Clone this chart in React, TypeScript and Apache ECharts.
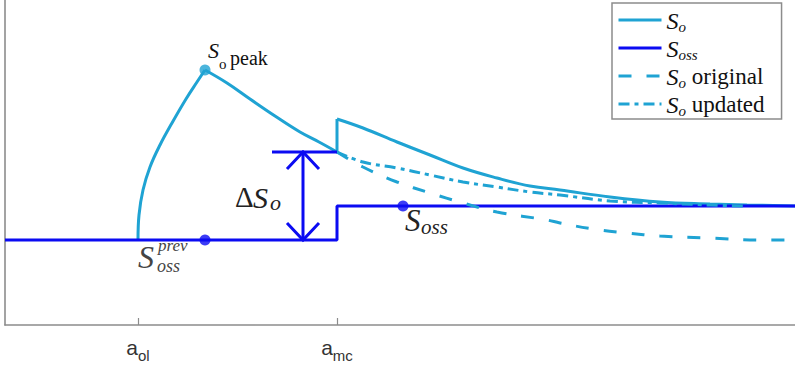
import React, { useEffect, useRef } from 'react';
import * as echarts from 'echarts';

const LIGHT = '#1fa3d3';
const BLUE = '#0b0bf2';
const AXIS = '#8c8c8c';
const SERIF = '"Liberation Serif", "DejaVu Serif", serif';
const SANS = '"Liberation Sans", Arial, sans-serif';

const xRange = [0, 790];
const yRange = [0, 325];
const tickValues = [133, 332];
const tickSubs = ['ol', 'mc'];

const legendNames = ['S_o', 'S_oss', 'S_o original', 'S_o updated'];

const soRise = [[133, 85], [134, 110], [138, 135], [145, 158], [155, 180], [167, 202], [181, 226], [192, 243], [200, 255]];
const soDecay = [[200, 255], [222, 242], [245, 226], [270, 209], [295, 193], [314, 183], [332, 173]];
const soJump = [[332, 173], [332, 206]];
const soTail = [[332, 206], [358, 197], [392, 183], [425, 170], [458, 157], [492, 147], [525, 139], [555, 135], [605, 128], [655, 123], [705, 121], [742, 120], [790, 119]];
const sossLine = [[0, 85], [332, 85], [332, 119], [790, 119]];
const soOriginal = [[332, 173], [358, 158], [392, 143], [425, 132], [458, 122], [492, 113], [542, 105], [555, 102], [588, 96], [622, 92], [655, 89], [705, 87], [755, 85], [790, 85]];
const soUpdated = [[332, 173], [358, 163], [392, 157], [425, 150], [458, 143], [492, 138], [525, 133], [555, 130], [605, 124], [655, 122], [705, 120], [742, 119]];
const peakPoint = [200, 255];
const sossPrevPoint = [200, 85];
const sossPoint = [398, 119];
// x, bottom y, top y, top bar from x, top bar to x
const deltaArrow = [298, 85, 173, 267, 332];

const legendText: Record<string, string> = {
  'S_o': '{s|S}{sub|o}',
  'S_oss': '{s|S}{sub|oss}',
  'S_o original': '{s|S}{sub|o}{t| original}',
  'S_o updated': '{s|S}{sub|o}{t| updated}',
};

function txt(x: number, y: number, text: string, fontSize: number, italic: boolean, fill: string, family = SERIF) {
  return {
    type: 'text',
    x,
    y,
    style: {
      text,
      fontSize,
      fontFamily: family,
      fontStyle: italic ? 'italic' : 'normal',
      fill,
      align: 'left',
      verticalAlign: 'middle',
    },
  };
}

export default function App() {
  const ref = useRef<HTMLDivElement>(null);
  useEffect(() => {
    if (!ref.current) return;
    const chart = echarts.init(ref.current, undefined, { renderer: 'svg' });
    const lineBase = { type: 'line', showSymbol: false, symbol: 'none', smooth: 0.4 };
    chart.setOption({
      animation: false,
      backgroundColor: '#fff',
      grid: { left: 5, right: 0, top: 0, bottom: 43, containLabel: false },
      xAxis: {
        type: 'value',
        min: xRange[0],
        max: xRange[1],
        splitLine: { show: false },
        axisLine: { show: true, lineStyle: { color: AXIS, width: 1.6 } },
        axisTick: { show: true, inside: true, length: 7, customValues: tickValues, lineStyle: { color: AXIS, width: 1.2 } },
        axisLabel: {
          customValues: tickValues,
          margin: 12,
          formatter: (v: number) => {
            const i = tickValues.indexOf(v);
            return '{a|a}{sub|' + (i >= 0 ? tickSubs[i] : '') + '}';
          },
          rich: {
            a: { fontFamily: SANS, fontSize: 21, lineHeight: 21, color: '#333', verticalAlign: 'top' },
            sub: { fontFamily: SANS, fontSize: 15, lineHeight: 15, color: '#333', verticalAlign: 'top', padding: [11, 0, 0, 0] },
          },
        },
      },
      yAxis: {
        type: 'value',
        min: yRange[0],
        max: yRange[1],
        splitLine: { show: false },
        axisLine: { show: true, lineStyle: { color: AXIS, width: 1.6 } },
        axisTick: { show: false },
        axisLabel: { show: false },
      },
      legend: {
        data: legendNames,
        orient: 'vertical',
        left: 612,
        top: 3,
        padding: [6, 17, 1, 5],
        itemWidth: 43,
        itemHeight: 14,
        itemGap: 3,
        selectedMode: false,
        borderColor: AXIS,
        borderWidth: 1.5,
        backgroundColor: '#fff',
        itemStyle: { opacity: 0 },
        lineStyle: { width: 3 },
        formatter: (name: string) => legendText[name] || name,
        textStyle: {
          rich: {
            s: { fontFamily: SERIF, fontStyle: 'italic', fontSize: 24, lineHeight: 22, verticalAlign: 'top', color: '#111' },
            sub: { fontFamily: SERIF, fontStyle: 'italic', fontSize: 15, lineHeight: 14, verticalAlign: 'top', padding: [10, 0, 0, 0], color: '#111' },
            t: { fontFamily: SERIF, fontSize: 23, lineHeight: 22, verticalAlign: 'top', color: '#111' },
          },
        },
      },
      series: [
        { ...lineBase, name: 'S_o', data: soRise, lineStyle: { color: LIGHT, width: 3 }, itemStyle: { color: LIGHT } },
        { ...lineBase, name: 'S_o', data: soDecay, lineStyle: { color: LIGHT, width: 3 }, itemStyle: { color: LIGHT } },
        { ...lineBase, name: 'S_o', smooth: false, data: soJump, lineStyle: { color: LIGHT, width: 3 }, itemStyle: { color: LIGHT } },
        { ...lineBase, name: 'S_o', data: soTail, lineStyle: { color: LIGHT, width: 3 }, itemStyle: { color: LIGHT } },
        { ...lineBase, name: 'S_oss', smooth: false, data: sossLine, lineStyle: { color: BLUE, width: 3 }, itemStyle: { color: BLUE } },
        { ...lineBase, name: 'S_o original', data: soOriginal, lineStyle: { color: LIGHT, width: 3, type: [13, 15] }, itemStyle: { color: LIGHT } },
        { ...lineBase, name: 'S_o updated', data: soUpdated, lineStyle: { color: LIGHT, width: 3, type: [11, 5, 4, 5] }, itemStyle: { color: LIGHT } },
        {
          type: 'scatter',
          name: 'points',
          symbolSize: 11,
          z: 5,
          data: [
            { value: peakPoint, itemStyle: { color: LIGHT } },
            { value: sossPrevPoint, itemStyle: { color: BLUE } },
            { value: sossPoint, itemStyle: { color: BLUE } },
          ],
        },
        {
          type: 'custom',
          name: 'delta',
          z: 4,
          data: [deltaArrow],
          renderItem: (params: any, api: any) => {
            const bottom = api.coord([api.value(0), api.value(1)]);
            const top = api.coord([api.value(0), api.value(2)]);
            const barL = api.coord([api.value(3), api.value(2)]);
            const barR = api.coord([api.value(4), api.value(2)]);
            const w = 16, h = 17;
            const st = { stroke: BLUE, lineWidth: 3, fill: 'none' };
            const mid = (top[1] + bottom[1]) / 2;
            const x = top[0];
            return {
              type: 'group',
              children: [
                { type: 'line', shape: { x1: barL[0], y1: barL[1], x2: barR[0], y2: barR[1] }, style: st },
                { type: 'line', shape: { x1: x, y1: top[1], x2: x, y2: bottom[1] }, style: st },
                { type: 'polyline', shape: { points: [[x - w, top[1] + h], [x, top[1]], [x + w, top[1] + h]] }, style: st },
                { type: 'polyline', shape: { points: [[x - w, bottom[1] - h], [x, bottom[1]], [x + w, bottom[1] - h]] }, style: st },
                txt(x - 68, mid + 1, 'Δ', 29, false, '#222'),
                txt(x - 50, mid + 1, 'S', 30, true, '#222'),
                txt(x - 33, mid + 6, 'o', 22, true, '#222'),
              ],
            };
          },
        },
        {
          type: 'custom',
          name: 'labels',
          z: 6,
          data: [peakPoint, sossPrevPoint, sossPoint],
          renderItem: (params: any, api: any) => {
            const p = api.coord([api.value(0), api.value(1)]);
            const i = params.dataIndex;
            let children: any[] = [];
            if (i === 0) {
              children = [
                txt(p[0] + 3, p[1] - 20, 'S', 22, true, '#111'),
                txt(p[0] + 14, p[1] - 6, 'o', 15, false, '#111'),
                txt(p[0] + 25, p[1] - 12, 'peak', 20, false, '#111'),
              ];
            } else if (i === 1) {
              children = [
                txt(p[0] - 67, p[1] + 17, 'S', 32, true, '#444'),
                txt(p[0] - 47, p[1] + 5, 'prev', 17, true, '#444'),
                txt(p[0] - 48, p[1] + 26, 'oss', 18, true, '#444'),
              ];
            } else {
              children = [
                txt(p[0] + 2, p[1] + 14, 'S', 31, true, '#222'),
                txt(p[0] + 18, p[1] + 21, 'oss', 21, true, '#222'),
              ];
            }
            return { type: 'group', children };
          },
        },
      ],
    });
    return () => chart.dispose();
  }, []);
  return <div ref={ref} style={{ position: 'fixed', left: 0, top: 0, width: 795, height: 368 }} />;
}
